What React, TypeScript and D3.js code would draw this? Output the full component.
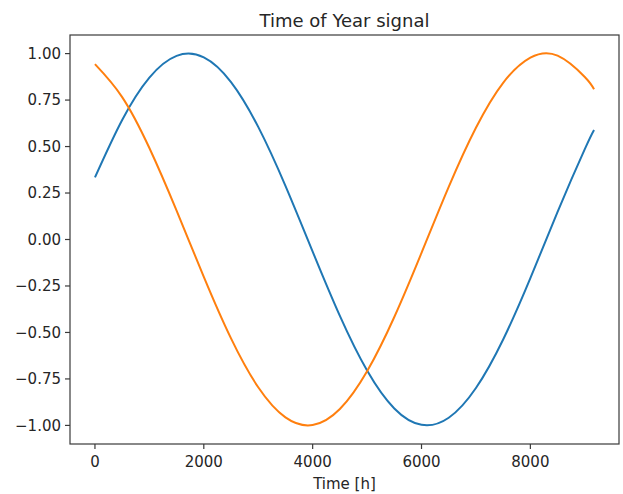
import React from "react";
import * as d3 from "d3";

// Sample index (hours) and the two seasonal encodings read at those samples
const hours = [0, 500, 1000, 1500, 2000, 2500, 3000, 3500, 4000, 4500, 5000, 5500, 6000, 6500, 7000, 7500, 8000, 8500, 9000, 9170];
const yearSin = [0.334, 0.643, 0.871, 0.988, 0.980, 0.847, 0.606, 0.289, -0.065, -0.411, -0.705, -0.909, -0.997, -0.959, -0.799, -0.538, -0.208, 0.149, 0.486, 0.589];
const yearCos = [0.943, 0.766, 0.492, 0.155, -0.201, -0.532, -0.795, -0.957, -0.998, -0.912, -0.709, -0.417, -0.072, 0.283, 0.601, 0.843, 0.978, 0.989, 0.874, 0.808];

const xTicks = [0, 2000, 4000, 6000, 8000];
const yTicks = [-1.0, -0.75, -0.5, -0.25, 0.0, 0.25, 0.5, 0.75, 1.0];
const seriesColors = ["#1f77b4", "#ff7f0e"];

const W = 623;
const H = 494;
const frame = { left: 70, right: 619, top: 35, bottom: 444 };

export default function App() {
  const xMax = hours[hours.length - 1];
  const pad = xMax * 0.05;
  const x = d3.scaleLinear().domain([-pad, xMax + pad]).range([frame.left, frame.right]);
  const y = d3.scaleLinear().domain([-1.1, 1.1]).range([frame.bottom, frame.top]);

  const line = d3
    .line<[number, number]>()
    .x((d) => x(d[0]))
    .y((d) => y(d[1]))
    .curve(d3.curveNatural);

  const series = [yearSin, yearCos].map((vals) => hours.map((h, i) => [h, vals[i]] as [number, number]));
  const font = "'DejaVu Sans', sans-serif";
  const textColor = "#262626";
  const axisColor = "#3a3a3a";

  return (
    <svg width={W} height={H} style={{ position: "absolute", left: 0, top: 0, background: "#fff" }}>
      <rect x={0} y={0} width={W} height={H} fill="#fff" />
      <text x={(frame.left + frame.right) / 2} y={27} textAnchor="middle" fontFamily={font} fontSize={18} fill={textColor}>
        Time of Year signal
      </text>

      <clipPath id="plot-area">
        <rect x={frame.left} y={frame.top} width={frame.right - frame.left} height={frame.bottom - frame.top} />
      </clipPath>
      <g clipPath="url(#plot-area)">
        {series.map((pts, i) => (
          <path key={i} d={line(pts) ?? ""} fill="none" stroke={seriesColors[i]} strokeWidth={2} strokeLinejoin="round" />
        ))}
      </g>

      <rect
        x={frame.left}
        y={frame.top}
        width={frame.right - frame.left}
        height={frame.bottom - frame.top}
        fill="none"
        stroke={axisColor}
        strokeWidth={1.2}
      />

      {yTicks.map((t) => (
        <g key={`y${t}`}>
          <line x1={frame.left - 5} x2={frame.left} y1={y(t)} y2={y(t)} stroke={axisColor} strokeWidth={1.2} />
          <text x={frame.left - 9} y={y(t)} dy="0.36em" textAnchor="end" fontFamily={font} fontSize={15} fill={textColor}>
            {t < 0 ? "\u2212" + d3.format(".2f")(-t) : d3.format(".2f")(t)}
          </text>
        </g>
      ))}

      {xTicks.map((t) => (
        <g key={`x${t}`}>
          <line x1={x(t)} x2={x(t)} y1={frame.bottom} y2={frame.bottom + 5} stroke={axisColor} strokeWidth={1.2} />
          <text x={x(t)} y={frame.bottom + 23} textAnchor="middle" fontFamily={font} fontSize={15} fill={textColor}>
            {t}
          </text>
        </g>
      ))}

      <text x={(frame.left + frame.right) / 2} y={489} textAnchor="middle" fontFamily={font} fontSize={15} fill={textColor}>
        Time [h]
      </text>
    </svg>
  );
}
